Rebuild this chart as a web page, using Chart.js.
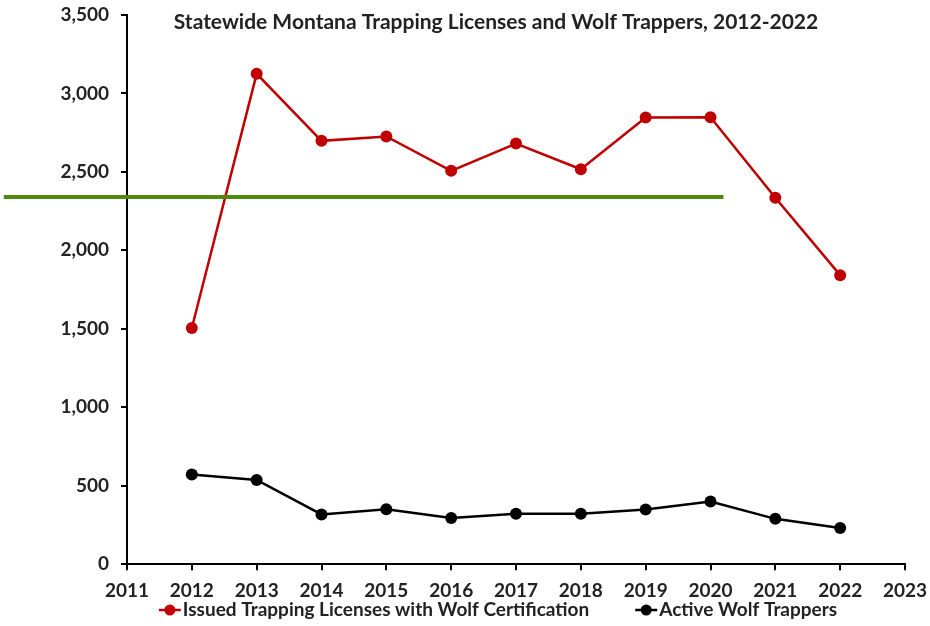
<!DOCTYPE html>
<html>
<head>
<meta charset="utf-8">
<script src="https://cdn.jsdelivr.net/npm/chart.js@4.4.1/dist/chart.umd.min.js"></script>
<style>
  html, body { margin: 0; padding: 0; background: #fff; }
  #wrap { width: 930px; height: 626px; }
</style>
</head>
<body>
<div id="wrap"><canvas id="chart"></canvas></div>
<script>
// 연도별 자료
const years = [2012, 2013, 2014, 2015, 2016, 2017, 2018, 2019, 2020, 2021, 2022];
const issuedLicenses = [1505, 3125, 2698, 2726, 2507, 2681, 2517, 2847, 2849, 2335, 1842];
const activeTrappers = [572, 537, 317, 350, 295, 321, 321, 349, 400, 289, 231];
const seriesNames = ['Issued Trapping Licenses with Wolf Certification', 'Active Wolf Trappers'];
const titleText = 'Statewide Montana Trapping Licenses and Wolf Trappers, 2012-2022';

// 녹색 기준선 (값, 시작/끝 연도)
const refLevel = 2340;
const refFrom = 2009.1;
const refTo = 2020.2;

const FONT = 'Lato, "Open Sans", sans-serif';
const TEXT = '#222222';

// 제목, 기준선, 범례 그리기
const extras = {
    id: 'extras',
    afterDatasetsDraw(chart) {
        const ctx = chart.ctx;
        const x = chart.scales.x, y = chart.scales.y;
        const area = chart.chartArea;
        ctx.save();
        ctx.strokeStyle = '#4e8a0e';
        ctx.lineWidth = 4;
        ctx.beginPath();
        ctx.moveTo(x.getPixelForValue(refFrom), y.getPixelForValue(refLevel));
        ctx.lineTo(x.getPixelForValue(refTo), y.getPixelForValue(refLevel));
        ctx.stroke();

        ctx.fillStyle = TEXT;
        ctx.font = 'bold 21px ' + FONT;
        ctx.textAlign = 'center';
        ctx.textBaseline = 'middle';
        ctx.fillText(titleText, (area.left + area.right) / 2 - 20, area.top + 7);
        ctx.restore();
    },
    afterDraw(chart) {
        // 하단 범례: 선 + 점 아이콘과 계열 이름
        const ctx = chart.ctx;
        const area = chart.chartArea;
        const sets = chart.data.datasets;
        ctx.save();
        ctx.font = 'bold 19px ' + FONT;
        ctx.textBaseline = 'middle';
        ctx.textAlign = 'left';
        const iconW = 22, iconGap = 2, itemGap = 46;
        const widths = sets.map(ds => iconW + iconGap + ctx.measureText(ds.label).width);
        const total = widths.reduce((a, b) => a + b, 0) + itemGap * (sets.length - 1);
        let cx = (area.left + area.right) / 2 - 18 - total / 2;
        const cy = chart.height - 16;
        sets.forEach((ds, i) => {
            ctx.strokeStyle = ds.borderColor;
            ctx.lineWidth = 2.5;
            ctx.beginPath();
            ctx.moveTo(cx, cy);
            ctx.lineTo(cx + iconW, cy);
            ctx.stroke();
            ctx.fillStyle = ds.borderColor;
            ctx.beginPath();
            ctx.arc(cx + iconW / 2, cy, 5.5, 0, Math.PI * 2);
            ctx.fill();
            ctx.fillStyle = TEXT;
            ctx.fillText(ds.label, cx + iconW + iconGap, cy);
            cx += widths[i] + itemGap;
        });
        ctx.restore();
    }
};

const ctx = document.getElementById('chart').getContext('2d');
new Chart(ctx, {
    type: 'line',
    data: {
        datasets: [{
            label: seriesNames[0],
            data: years.map((yr, i) => ({ x: yr, y: issuedLicenses[i] })),
            borderColor: '#c00000',
            backgroundColor: '#c00000',
            borderWidth: 2.5,
            pointRadius: 6,
            pointHoverRadius: 6,
            pointBorderWidth: 0
        }, {
            label: seriesNames[1],
            data: years.map((yr, i) => ({ x: yr, y: activeTrappers[i] })),
            borderColor: '#000000',
            backgroundColor: '#000000',
            borderWidth: 2.5,
            pointRadius: 6,
            pointHoverRadius: 6,
            pointBorderWidth: 0
        }]
    },
    options: {
        responsive: true,
        maintainAspectRatio: false,
        animation: false,
        layout: { padding: { left: 0, right: 25, top: 15, bottom: 15 } },
        scales: {
            x: {
                type: 'linear',
                min: 2011,
                max: 2023,
                afterFit: s => { s.paddingLeft = 0; s.paddingRight = 0; },
                ticks: {
                    stepSize: 1,
                    color: TEXT,
                    padding: 9,
                    font: { family: FONT, size: 19, weight: 'bold' },
                    callback: v => String(v)
                },
                grid: { drawOnChartArea: false, drawTicks: true, tickLength: 6, color: '#000', lineWidth: 2 },
                border: { display: true, color: '#000', width: 2 }
            },
            y: {
                min: 0,
                max: 3500,
                afterFit: s => { s.width = 127; s.paddingTop = 0; s.paddingBottom = 0; },
                ticks: {
                    stepSize: 500,
                    color: TEXT,
                    padding: 12,
                    font: { family: FONT, size: 19, weight: 'bold' },
                    callback: v => v.toLocaleString('en-US')
                },
                grid: { drawOnChartArea: false, drawTicks: true, tickLength: 6, color: '#000', lineWidth: 2 },
                border: { display: true, color: '#000', width: 2 }
            }
        },
        plugins: {
            legend: { display: false },
            title: { display: false },
            tooltip: { enabled: false }
        }
    },
    plugins: [extras]
});
</script>
</body>
</html>
